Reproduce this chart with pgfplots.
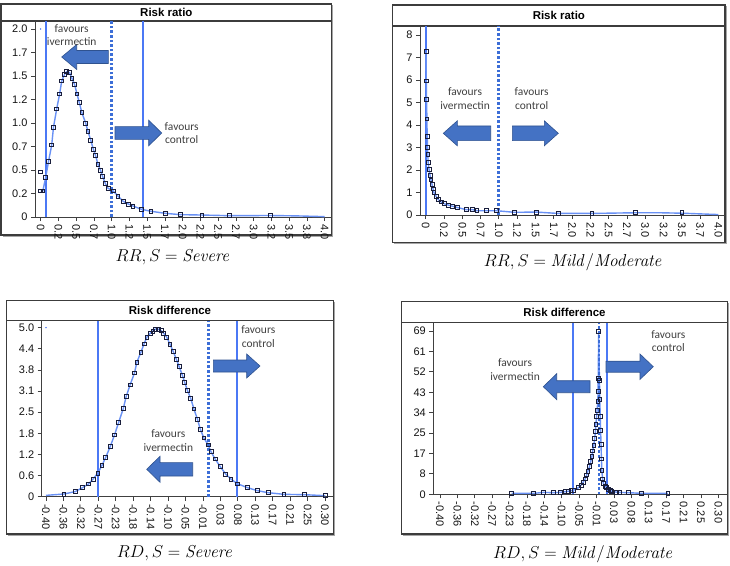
\documentclass[border=0pt]{standalone}
\usepackage[no-math]{fontspec}
\setmainfont{Liberation Sans}
\newfontfamily\annfont{Carlito}
\usepackage{pgfplots}
\pgfplotsset{compat=1.18}

\definecolor{curvec}{RGB}{105,145,245}
\definecolor{vlinec}{RGB}{75,120,245}
\definecolor{dotlinec}{RGB}{60,110,215}
\definecolor{markc}{RGB}{25,30,60}
\definecolor{arrowfill}{RGB}{68,114,196}
\definecolor{arrowdraw}{RGB}{47,82,143}
\definecolor{framec}{RGB}{60,60,60}
\definecolor{ticktext}{RGB}{20,20,20}
\definecolor{anntext}{RGB}{64,64,64}

\pgfplotsset{
 panel/.style={
  scale only axis, anchor=south west, axis lines*=left,
  axis line style={black!75, line width=0.8bp},
  tick align=outside, major tick length=4bp,
  tick style={black!75, line width=0.8bp},
  ticklabel style={font=\fontsize{11}{13}\selectfont, text=ticktext},
  xticklabel style={rotate=-90, anchor=west},
  yticklabel style={anchor=east},
  clip=false,
 },
 curvestyle/.style={draw=curvec, line width=1.4bp},
 markstyle/.style={only marks, mark=square, mark size=1.9bp, mark options={draw=markc, fill=none, line width=0.8bp, solid}},
 dlstyle/.style={draw=dotlinec, line width=2.8bp, dash pattern=on 2.6bp off 2bp},
}
\tikzset{vls/.style={draw=vlinec, line width=1.8bp}}

\newcommand{\panelframe}[6]{%
  \fill[black!35] ({#1+1.5},{#2+1.5}) rectangle ({#3+1.5},{#4+1.5});
  \filldraw[fill=white, draw=framec, line width=1.1bp] (#1,#2) rectangle (#3,#4);
  \draw[framec, line width=1.1bp] (#1,#5) -- (#3,#5);
  \node[font=\fontsize{11.5}{13}\selectfont\bfseries] at ({(#1+#3)/2},{(#2+#5)/2}) {#6};
}
% tail x, tip x, centre y, body half, head half, head length (signed)
\newcommand{\blockarrow}[6]{%
  \filldraw[fill=arrowfill, draw=arrowdraw, line width=0.6bp]
   (#1,{#3-#4}) -- ({#2-#6},{#3-#4}) -- ({#2-#6},{#3-#5}) -- (#2,#3) --
   ({#2-#6},{#3+#5}) -- ({#2-#6},{#3+#4}) -- (#1,{#3+#4}) -- cycle;
}
\newcommand{\ann}[3]{\node[align=center, font=\annfont\fontsize{11.5}{13.4}\selectfont, text=anntext] at (#1,#2) {#3};}

\begin{document}
\begin{tikzpicture}
\begin{scope}[x=1bp,y=-1bp]
 \useasboundingbox (0,0) rectangle (730,563);
 \panelframe{1}{4}{331.7}{235}{21}{Risk ratio}
 \panelframe{392.7}{5}{725}{242.7}{26}{Risk ratio}
 \panelframe{6.7}{300.7}{333.3}{534}{320.7}{Risk difference}
 \panelframe{401.7}{301.7}{727.3}{534}{322.7}{Risk difference}
\end{scope}

% ---------- Panel 1: RR, Severe ----------
\begin{axis}[panel, at={(35bp,-217bp)}, width=296.7bp, height=196bp,
 xmin=-0.0803, xmax=4.099, ymin=0, ymax=2.085,
 xtick={0,0.25,0.5,0.75,1,1.25,1.5,1.75,2,2.25,2.5,2.75,3,3.25,3.5,3.75,4},
 xticklabels={0,0.2,0.5,0.7,1.0,1.2,1.5,1.7,2.0,2.2,2.5,2.7,3.0,3.2,3.5,3.8,4.0},
 ytick={0,0.25,0.5,0.75,1,1.25,1.5,1.75,2},
 yticklabels={0,0.2,0.5,0.7,1.0,1.2,1.5,1.7,2.0}]
\draw[vls] (axis cs:0.075,0) -- (axis cs:0.075,2.085);
\draw[vls] (axis cs:1.445,0) -- (axis cs:1.445,2.085);
\addplot[curvestyle] coordinates {(0,0.277)(0.03,0.277)(0.07,0.42)(0.11,0.59)(0.155,0.766)(0.18,0.954)(0.225,1.149)(0.267,1.31)(0.296,1.447)(0.338,1.52)(0.366,1.546)(0.408,1.535)(0.44,1.475)(0.478,1.408)(0.511,1.31)(0.544,1.216)(0.58,1.11)(0.634,0.997)(0.666,0.911)(0.704,0.819)(0.741,0.723)(0.774,0.652)(0.807,0.56)(0.845,0.493)(0.873,0.429)(0.91,0.358)(0.948,0.305)(1.022,0.277)(1.088,0.223)(1.163,0.167)(1.233,0.138)(1.30,0.117)(1.417,0.082)(1.553,0.061)(1.754,0.039)(1.97,0.025)(2.27,0.021)(2.66,0.014)(3.23,0.016)(3.6,0.012)(4.0,0.004)};
\addplot[markstyle] coordinates {(0,0.48)(0,0.277)(0.03,0.277)(0.07,0.42)(0.11,0.59)(0.155,0.766)(0.18,0.954)(0.225,1.149)(0.267,1.31)(0.296,1.447)(0.338,1.52)(0.366,1.546)(0.408,1.535)(0.44,1.475)(0.478,1.408)(0.511,1.31)(0.544,1.216)(0.58,1.11)(0.634,0.997)(0.666,0.911)(0.704,0.819)(0.741,0.723)(0.774,0.652)(0.807,0.56)(0.845,0.493)(0.873,0.429)(0.91,0.358)(0.948,0.305)(1.022,0.277)(1.088,0.223)(1.163,0.167)(1.233,0.138)(1.30,0.117)(1.417,0.082)(1.553,0.061)(1.754,0.039)(1.97,0.025)(2.27,0.021)(2.66,0.014)(3.23,0.016)};
\addplot[dlstyle] coordinates {(1,0) (1,2.085)};
\addplot[only marks, mark=*, mark size=0.5bp, color=vlinec] coordinates {(0,2.0)};
\end{axis}

% ---------- Panel 2: RR, Mild/Moderate ----------
\begin{axis}[panel, at={(420bp,-215bp)}, width=305bp, height=189bp,
 xmin=-0.078, xmax=4.09, ymin=0, ymax=8.4,
 xtick={0,0.25,0.5,0.75,1,1.25,1.5,1.75,2,2.25,2.5,2.75,3,3.25,3.5,3.75,4},
 xticklabels={0,0.2,0.5,0.7,1.0,1.2,1.5,1.7,2.0,2.2,2.5,2.7,3.0,3.2,3.5,3.7,4.0},
 ytick={0,1,2,3,4,5,6,7,8},
 yticklabels={0,1,2,3,4,5,6,7,8}]
\draw[vls] (axis cs:0.0,0) -- (axis cs:0.0,8.4);
\addplot[curvestyle] coordinates {(0.004,7.26)(0.008,5.96)(0.012,5.14)(0.016,4.27)(0.02,3.51)(0.025,3.01)(0.029,2.68)(0.033,2.34)(0.045,2.04)(0.059,1.76)(0.072,1.56)(0.086,1.36)(0.1,1.16)(0.113,0.99)(0.141,0.84)(0.168,0.70)(0.209,0.58)(0.254,0.50)(0.309,0.44)(0.364,0.39)(0.437,0.33)(0.551,0.24)(0.637,0.24)(0.70,0.19)(0.824,0.19)(0.97,0.19)(1.21,0.12)(1.51,0.13)(1.81,0.07)(2.27,0.07)(2.87,0.10)(3.2,0.1)(3.5,0.08)(4.0,0.02)};
\addplot[markstyle] coordinates {(0.004,7.26)(0.008,5.96)(0.012,5.14)(0.016,4.27)(0.02,3.51)(0.025,3.01)(0.029,2.68)(0.033,2.34)(0.045,2.04)(0.059,1.76)(0.072,1.56)(0.086,1.36)(0.1,1.16)(0.113,0.99)(0.141,0.84)(0.168,0.70)(0.209,0.58)(0.254,0.50)(0.309,0.44)(0.364,0.39)(0.437,0.33)(0.551,0.24)(0.637,0.24)(0.70,0.19)(0.824,0.19)(0.97,0.19)(1.21,0.12)(1.51,0.13)(1.81,0.07)(2.27,0.07)(2.87,0.10)(3.50,0.10)};
\addplot[dlstyle] coordinates {(1,0) (1,8.4)};
\end{axis}

% ---------- Panel 3: RD, Severe ----------
\begin{axis}[panel, at={(41.7bp,-496.7bp)}, width=291.6bp, height=176bp,
 xmin=-0.4108, xmax=0.3208, ymin=0, ymax=5.207,
 xtick={-0.4,-0.35625,-0.3125,-0.26875,-0.225,-0.18125,-0.1375,-0.09375,-0.05,-0.00625,0.0375,0.08125,0.125,0.16875,0.2125,0.25625,0.3},
 xticklabels={-0.40,-0.36,-0.32,-0.27,-0.23,-0.18,-0.14,-0.10,-0.05,-0.01,0.03,0.08,0.13,0.17,0.21,0.25,0.30},
 ytick={0,0.625,1.25,1.875,2.5,3.125,3.75,4.375,5},
 yticklabels={0,0.6,1.2,1.8,2.5,3.1,3.8,4.4,5.0}]
\draw[vls] (axis cs:-0.269,0) -- (axis cs:-0.269,5.207);
\draw[vls] (axis cs:0.080,0) -- (axis cs:0.080,5.207);
\addplot[curvestyle] coordinates {(-0.40,0.04)(-0.355,0.08)(-0.327,0.15)(-0.308,0.27)(-0.293,0.38)(-0.282,0.52)(-0.270,0.70)(-0.260,0.92)(-0.250,1.17)(-0.239,1.48)(-0.228,1.83)(-0.218,2.19)(-0.206,2.61)(-0.199,2.96)(-0.189,3.31)(-0.178,3.66)(-0.172,3.98)(-0.162,4.27)(-0.154,4.52)(-0.147,4.72)(-0.139,4.83)(-0.132,4.90)(-0.126,4.96)(-0.119,4.96)(-0.111,4.91)(-0.105,4.84)(-0.097,4.72)(-0.089,4.51)(-0.081,4.30)(-0.073,4.07)(-0.066,3.85)(-0.058,3.60)(-0.052,3.38)(-0.045,3.14)(-0.037,2.91)(-0.029,2.60)(-0.020,2.29)(-0.013,2.00)(-0.004,1.74)(0.007,1.53)(0.014,1.33)(0.024,1.12)(0.037,0.89)(0.051,0.67)(0.064,0.52)(0.081,0.38)(0.105,0.27)(0.130,0.18)(0.157,0.12)(0.197,0.07)(0.249,0.06)(0.301,0.03)};
\addplot[markstyle] coordinates {(-0.355,0.08)(-0.327,0.15)(-0.308,0.27)(-0.293,0.38)(-0.282,0.52)(-0.270,0.70)(-0.260,0.92)(-0.250,1.17)(-0.239,1.48)(-0.228,1.83)(-0.218,2.19)(-0.206,2.61)(-0.199,2.96)(-0.189,3.31)(-0.178,3.66)(-0.172,3.98)(-0.162,4.27)(-0.154,4.52)(-0.147,4.72)(-0.139,4.83)(-0.132,4.90)(-0.126,4.96)(-0.119,4.96)(-0.111,4.91)(-0.105,4.84)(-0.097,4.72)(-0.089,4.51)(-0.081,4.30)(-0.073,4.07)(-0.066,3.85)(-0.058,3.60)(-0.052,3.38)(-0.045,3.14)(-0.037,2.91)(-0.029,2.60)(-0.020,2.29)(-0.013,2.00)(-0.004,1.74)(0.007,1.53)(0.014,1.33)(0.024,1.12)(0.037,0.89)(0.051,0.67)(0.064,0.52)(0.081,0.38)(0.105,0.27)(0.130,0.18)(0.157,0.12)(0.197,0.07)(0.249,0.06)(0.301,0.03)};
\addplot[dlstyle] coordinates {(0.007,0) (0.007,5.207)};
\addplot[only marks, mark=*, mark size=0.5bp, color=vlinec] coordinates {(-0.40,5.0)};
\end{axis}

% ---------- Panel 4: RD, Mild/Moderate ----------
\begin{axis}[panel, at={(433.3bp,-494.3bp)}, width=294bp, height=171.6bp,
 xmin=-0.4168, xmax=0.3226, ymin=0, ymax=72.5,
 xtick={-0.4,-0.35625,-0.3125,-0.26875,-0.225,-0.18125,-0.1375,-0.09375,-0.05,-0.00625,0.0375,0.08125,0.125,0.16875,0.2125,0.25625,0.3},
 xticklabels={-0.40,-0.36,-0.32,-0.27,-0.23,-0.18,-0.14,-0.10,-0.05,-0.01,0.03,0.08,0.13,0.17,0.21,0.25,0.30},
 ytick={0,8.625,17.25,25.875,34.5,43.125,51.75,60.375,69},
 yticklabels={0,8,17,25,34,43,52,61,69}]
\draw[vls] (axis cs:-0.065,0) -- (axis cs:-0.065,72.5);
\draw[vls] (axis cs:0.021,0) -- (axis cs:0.021,72.5);
\addplot[curvestyle] coordinates {(-0.220,0.4)(-0.165,0.4)(-0.140,0.8)(-0.115,0.7)(-0.098,0.8)(-0.086,1.1)(-0.077,1.3)(-0.071,1.5)(-0.063,1.8)(-0.052,2.8)(-0.045,3.9)(-0.040,5.1)(-0.035,6.5)(-0.031,8.2)(-0.028,9.8)(-0.024,11.7)(-0.021,13.8)(-0.018,15.9)(-0.016,18.3)(-0.013,20.8)(-0.011,23.7)(-0.009,26.5)(-0.008,29.7)(-0.006,32.8)(-0.005,35.6)(-0.003,39.1)(-0.0025,43.4)(-0.002,49.0)(-0.001,68.7)(0.001,48)(0.002,40)(0.003,33)(0.004,27)(0.005,21)(0.006,15)(0.007,10)(0.009,6.5)(0.011,4.6)(0.015,3.5)(0.018,3.0)(0.023,2.1)(0.028,1.6)(0.032,1.3)(0.044,0.9)(0.051,0.8)(0.074,0.7)(0.107,0.4)(0.173,0.4)};
\addplot[markstyle] coordinates {(-0.220,0.4)(-0.165,0.4)(-0.140,0.8)(-0.115,0.7)(-0.098,0.8)(-0.086,1.1)(-0.077,1.3)(-0.071,1.5)(-0.063,1.8)(-0.052,2.8)(-0.045,3.9)(-0.040,5.1)(-0.035,6.5)(-0.031,8.2)(-0.028,9.8)(-0.024,11.7)(-0.021,13.8)(-0.018,15.9)(-0.016,18.3)(-0.013,20.8)(-0.011,23.7)(-0.009,26.5)(-0.008,29.7)(-0.006,32.8)(-0.005,35.6)(-0.003,39.1)(-0.0025,43.4)(-0.002,49.0)(-0.001,68.7)(0.001,48)(0.002,40)(0.003,33)(0.004,27)(0.005,21)(0.006,15)(0.007,10)(0.009,6.5)(0.011,4.6)(0.015,3.5)(0.018,3.0)(0.023,2.1)(0.028,1.6)(0.032,1.3)(0.044,0.9)(0.051,0.8)(0.074,0.7)(0.107,0.4)(0.173,0.4)};
\addplot[dlstyle] coordinates {(0.0,0) (0.0,72.5)};
\end{axis}

% ---------- annotations ----------
\begin{scope}[x=1bp,y=-1bp]
 % panel 1
 \blockarrow{108.3}{61.7}{57}{6.5}{12.5}{-15}
 \blockarrow{115}{161.7}{133}{6.3}{12.8}{13}
 \ann{71.7}{35}{favours\\ivermectin}
 \ann{181.7}{133}{favours\\control}
 % panel 2
 \blockarrow{490.7}{443.3}{133.3}{7.3}{12.5}{-14}
 \blockarrow{512.3}{558.3}{133.3}{7.3}{12.5}{14}
 \ann{465}{98.5}{favours\\ivermectin}
 \ann{531.7}{98.5}{favours\\control}
 % panel 3
 \blockarrow{213.3}{260}{366}{6}{12}{13.3}
 \blockarrow{192.7}{146.7}{469.3}{6.7}{13}{-13.3}
 \ann{258.3}{336.7}{favours\\control}
 \ann{168.3}{440.7}{favours\\ivermectin}
 % panel 4
 \blockarrow{590}{543.3}{386.7}{6}{13}{-13.4}
 \blockarrow{606}{653.3}{366.7}{5.5}{12.7}{13.3}
 \ann{515}{369.7}{favours\\ivermectin}
 \ann{668.3}{341.3}{favours\\control}
 % captions
 \node[font=\fontsize{16.5}{18}\selectfont] at (173,257) {$RR,S=\mathit{Severe}$};
 \node[font=\fontsize{16.5}{18}\selectfont] at (573.3,262) {$RR,S=\mathit{Mild/Moderate}$};
 \node[font=\fontsize{16.5}{18}\selectfont] at (175,553.3) {$RD,S=\mathit{Severe}$};
 \node[font=\fontsize{16.5}{18}\selectfont] at (583.3,554) {$RD,S=\mathit{Mild/Moderate}$};
\end{scope}
\end{tikzpicture}
\end{document}
